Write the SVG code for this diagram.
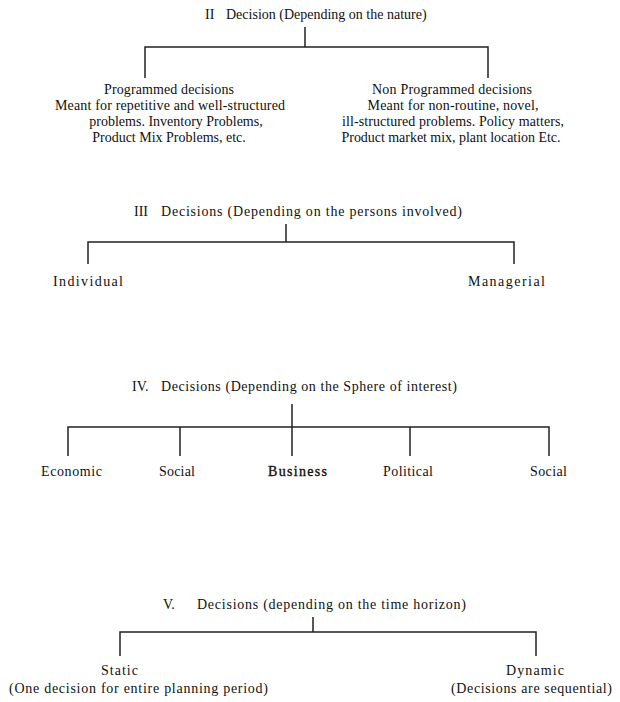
<svg xmlns="http://www.w3.org/2000/svg" width="620" height="702" viewBox="0 0 620 702">
<style>
text{font-family:"Liberation Serif","Times New Roman",serif;font-size:14px;fill:#111}
.m{text-anchor:middle}
.b{stroke:#111;stroke-width:0.35}
.ln{stroke:#222;stroke-width:1.5;fill:none}
</style>
<rect width="620" height="702" fill="#fff"/>
<g id="connectors">
<path class="ln" d="M305,27V47M145,78V47H488V78"/>
<path class="ln" d="M286,224V242M88,264V242H514V264"/>
<path class="ln" d="M292,404V456M68,456V427H549V456M180,427V456M410,427V456"/>
<path class="ln" d="M313,617V632M120,656V632H536V656"/>
</g>
<g id="n2"><text x="205" y="19">II</text><text x="226" y="19">Decision (Depending on the nature)</text></g>
<g id="n2a">
<text class="m" x="169" y="94" textLength="130" lengthAdjust="spacing">Programmed decisions</text>
<text class="m" x="170" y="110" textLength="230" lengthAdjust="spacing">Meant for repetitive and well-structured</text>
<text class="m" x="176" y="126">problems. Inventory Problems,</text>
<text class="m" x="169" y="142">Product Mix Problems, etc.</text>
</g>
<g id="n2b">
<text class="m" x="452" y="94" textLength="160" lengthAdjust="spacing">Non Programmed decisions</text>
<text class="m" x="453" y="110" textLength="171" lengthAdjust="spacing">Meant for non-routine, novel,</text>
<text class="m" x="453" y="126" textLength="222" lengthAdjust="spacing">ill-structured problems. Policy matters,</text>
<text class="m" x="451" y="142" textLength="219" lengthAdjust="spacing">Product market mix, plant location Etc.</text>
</g>
<g id="n3"><text x="134" y="216">III</text><text x="161" y="216" textLength="301" lengthAdjust="spacing">Decisions (Depending on the persons involved)</text></g>
<g id="n3a"><text x="53" y="286" textLength="70" lengthAdjust="spacing">Individual</text></g>
<g id="n3b"><text x="468" y="286" textLength="77" lengthAdjust="spacing">Managerial</text></g>
<g id="n4"><text x="132" y="391">IV.</text><text x="161" y="391" textLength="296" lengthAdjust="spacing">Decisions (Depending on the Sphere of interest)</text></g>
<g id="n4a"><text x="41" y="476" textLength="61" lengthAdjust="spacing">Economic</text></g>
<g id="n4b"><text x="159" y="476" textLength="36" lengthAdjust="spacing">Social</text></g>
<g id="n4c"><text class="b" x="268" y="476" textLength="59" lengthAdjust="spacing">Business</text></g>
<g id="n4d"><text x="383" y="476" textLength="50" lengthAdjust="spacing">Political</text></g>
<g id="n4e"><text x="530" y="476" textLength="37" lengthAdjust="spacing">Social</text></g>
<g id="n5"><text x="163" y="609">V.</text><text x="197" y="609" textLength="269" lengthAdjust="spacing">Decisions (depending on the time horizon)</text></g>
<g id="n5a"><text x="101" y="675" textLength="37" lengthAdjust="spacing">Static</text><text x="9" y="693" textLength="259" lengthAdjust="spacing">(One decision for entire planning period)</text></g>
<g id="n5b"><text x="506" y="675" textLength="58" lengthAdjust="spacing">Dynamic</text><text x="451" y="693" textLength="161" lengthAdjust="spacing">(Decisions are sequential)</text></g>
</svg>
